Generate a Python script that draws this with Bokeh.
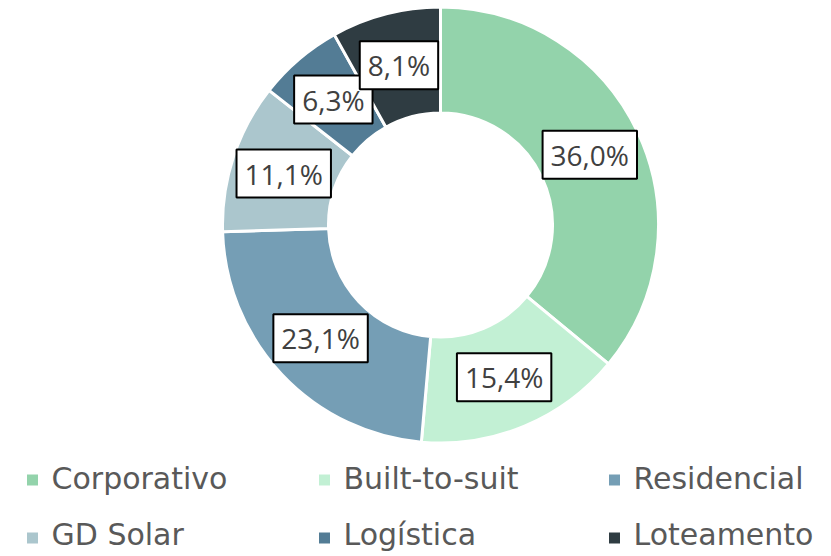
import math
from bokeh.plotting import figure
from bokeh.models import ColumnDataSource, Range1d
from bokeh.core.properties import value
from bokeh.embed import file_html
from bokeh.resources import INLINE

# ---- data ----
categories = ["Corporativo", "Built-to-suit", "Residencial", "GD Solar", "Logística", "Loteamento"]
shares = [36.0, 15.4, 23.1, 11.1, 6.3, 8.1]
colors = ["#93D3AB", "#C2F0D4", "#759EB5", "#ABC6CD", "#537C95", "#2F3C42"]

# ---- layout constants ----
W, H = 831, 556
CX, CY = 440, H - 224.5
R_OUT, R_IN = 218, 112

total = sum(shares)
starts, ends, lx, ly, labels = [], [], [], [], []
cum = 0.0
rm = (R_OUT + R_IN) / 2
for s in shares:
    a0 = cum / total * 2 * math.pi
    cum += s
    a1 = cum / total * 2 * math.pi
    starts.append(math.pi / 2 - a0)
    ends.append(math.pi / 2 - a1)
    mid = (a0 + a1) / 2
    lx.append(CX + rm * math.sin(mid))
    ly.append(CY + rm * math.cos(mid))
    labels.append(f"{s:.1f}%".replace(".", ","))

src = ColumnDataSource(dict(cat=categories, start=starts, end=ends, color=colors,
                            lx=lx, ly=ly, label=labels))

p = figure(width=W, height=H, output_backend="svg", toolbar_location=None,
           x_range=Range1d(0, W), y_range=Range1d(0, H), min_border=0)
p.axis.visible = False
p.grid.visible = False
p.outline_line_color = None
p.background_fill_color = "white"
p.border_fill_color = "white"

p.annular_wedge(x=CX, y=CY, inner_radius=R_IN, outer_radius=R_OUT,
                start_angle="start", end_angle="end", direction="clock",
                fill_color="color", line_color="white", line_width=3, source=src)

p.text(x="lx", y="ly", text="label", source=src,
       text_align="center", text_baseline="middle",
       text_font=value("Open Sans"), text_font_size="28px", text_color="#404040",
       background_fill_color="white", border_line_color="black", border_line_width=2,
       padding=(8, 5))

# ---- legend ----
col_x = [32, 324, 614]
row_sq_y = [H - 479.5, H - 537.5]
row_base_y = [H - 478, H - 534]
sq_x, sq_y, tx, ty = [], [], [], []
for i, c in enumerate(categories):
    r, k = divmod(i, 3)
    sq_x.append(col_x[k]); sq_y.append(row_sq_y[r])
    tx.append(col_x[k] + 19); ty.append(row_base_y[r])

leg = ColumnDataSource(dict(sx=sq_x, sy=sq_y, tx=tx, ty=ty, cat=categories, color=colors))
p.rect(x="sx", y="sy", width=11, height=11, fill_color="color", line_color=None, source=leg)
p.text(x="tx", y="ty", text="cat", source=leg, text_align="left", text_baseline="alphabetic",
       text_font=value("DejaVu Sans"), text_font_size="30px", text_color="#595959")

open("out.html", "w").write(file_html(p, INLINE))
